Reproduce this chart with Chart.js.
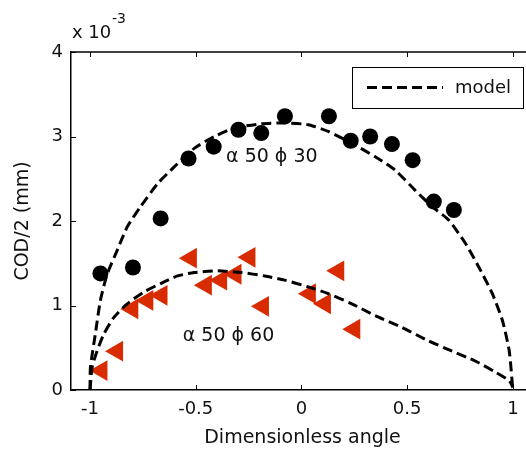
<!DOCTYPE html>
<html>
<head>
<meta charset="utf-8">
<script src="https://cdn.jsdelivr.net/npm/chart.js@4"></script>
<style>
  html, body { margin: 0; padding: 0; background: #fff; overflow: hidden; }
  #wrap { width: 526px; height: 451px; overflow: hidden; }
</style>
</head>
<body>
<div id="wrap">
  <canvas id="grafica" width="560" height="451" style="width:560px;height:451px"></canvas>
</div>
<script>
// ticks
const xTicks = [-1, -0.5, 0, 0.5, 1];
const yTicks = [0, 1, 2, 3, 4];

// medidos, phi 30 (circulos) - COD/2 en unidades de 1e-3 mm
const circX = [-0.951, -0.797, -0.666, -0.534, -0.415, -0.298, -0.190, -0.078, 0.130, 0.233, 0.325, 0.428, 0.526, 0.626, 0.721];
const circY = [1.38, 1.45, 2.03, 2.74, 2.88, 3.08, 3.04, 3.24, 3.24, 2.95, 3.00, 2.91, 2.72, 2.23, 2.13];

// medidos, phi 60 (triangulos)
const triX = [-0.946, -0.872, -0.800, -0.729, -0.662, -0.523, -0.452, -0.380, -0.312, -0.246, -0.182, 0.040, 0.111, 0.174, 0.250];
const triY = [0.23, 0.46, 0.96, 1.06, 1.12, 1.56, 1.24, 1.30, 1.37, 1.57, 0.99, 1.14, 1.02, 1.41, 0.72];

// modelo phi 30
const mod30X = [-1.0, -0.998, -0.975, -0.951, -0.919, -0.872, -0.824, -0.761, -0.681, -0.602, -0.507, -0.412, -0.317, -0.190, -0.079, 0.032, 0.127, 0.238, 0.349, 0.444, 0.539, 0.618, 0.697, 0.777, 0.840, 0.903, 0.951, 0.983, 1.0];
const mod30Y = [0.0, 0.27, 0.66, 1.06, 1.37, 1.65, 1.93, 2.17, 2.44, 2.64, 2.86, 3.00, 3.10, 3.15, 3.16, 3.14, 3.06, 2.92, 2.76, 2.60, 2.36, 2.17, 2.01, 1.73, 1.45, 1.14, 0.82, 0.46, 0.0];

// modelo phi 60
const mod60X = [-1.0, -0.99, -0.967, -0.935, -0.887, -0.824, -0.745, -0.666, -0.586, -0.507, -0.396, -0.285, -0.174, -0.079, 0.032, 0.127, 0.238, 0.349, 0.475, 0.602, 0.713, 0.824, 0.919, 0.983, 1.0];
const mod60Y = [0.0, 0.27, 0.46, 0.66, 0.86, 1.02, 1.16, 1.26, 1.35, 1.39, 1.41, 1.39, 1.35, 1.30, 1.22, 1.14, 1.02, 0.88, 0.74, 0.58, 0.46, 0.34, 0.21, 0.11, 0.03];

const etiquetas = [
    { x: -0.14, y: 2.76, texto: "\u03b1 50 \u03d5 30" },
    { x: -0.345, y: 0.64, texto: "\u03b1 50 \u03d5 60" }
];

const fuente = '"DejaVu Sans", Verdana, sans-serif';
const rojo = '#d92b00';
const guion = [10, 5];

function puntos(xs, ys) {
    return xs.map((v, i) => ({ x: v, y: ys[i] }));
}

// Dibuja caja, ticks interiores, leyenda y textos
const decoracion = {
    id: 'decoracion',
    afterDraw(chart) {
        const ctx = chart.ctx;
        const a = chart.chartArea;
        const sx = chart.scales.x;
        const sy = chart.scales.y;
        ctx.save();

        function linea(x1, y1, x2, y2) {
            ctx.beginPath();
            ctx.moveTo(x1, y1);
            ctx.lineTo(x2, y2);
            ctx.stroke();
        }

        ctx.strokeStyle = '#000';
        ctx.lineWidth = 1.5;
        linea(a.left, a.top, a.right, a.top);
        linea(a.right, a.top, a.right, a.bottom);

        ctx.lineWidth = 1;
        xTicks.forEach(v => {
            const px = Math.round(sx.getPixelForValue(v)) + 0.5;
            linea(px, a.bottom, px, a.bottom - 5);
            linea(px, a.top, px, a.top + 5);
        });
        yTicks.forEach(v => {
            const py = Math.round(sy.getPixelForValue(v)) + 0.5;
            linea(a.left, py, a.left + 5, py);
            linea(a.right, py, a.right - 5, py);
        });

        // textos alpha / phi
        ctx.fillStyle = '#111';
        ctx.font = '19px ' + fuente;
        ctx.textAlign = 'center';
        ctx.textBaseline = 'middle';
        etiquetas.forEach(e => {
            ctx.fillText(e.texto, sx.getPixelForValue(e.x), sy.getPixelForValue(e.y));
        });

        // multiplicador del eje y
        ctx.textAlign = 'left';
        ctx.textBaseline = 'alphabetic';
        ctx.font = '18px ' + fuente;
        ctx.fillText('x 10', 72, 38);
        ctx.font = '14px ' + fuente;
        ctx.fillText('-3', 112, 23);

        // leyenda
        ctx.fillStyle = '#fff';
        ctx.fillRect(352, 67, 171, 41);
        ctx.strokeStyle = '#000';
        ctx.lineWidth = 1;
        ctx.strokeRect(352.5, 67.5, 171, 41);
        ctx.lineWidth = 3;
        ctx.setLineDash(guion);
        linea(367, 87.5, 443, 87.5);
        ctx.setLineDash([]);
        ctx.fillStyle = '#111';
        ctx.font = '18px ' + fuente;
        ctx.textBaseline = 'middle';
        ctx.fillText('model', 455, 88);

        ctx.restore();
    }
};

const ctx = document.getElementById('grafica').getContext('2d');

new Chart(ctx, {
    type: 'scatter',
    data: {
        datasets: [
            {
                label: 'model',
                data: puntos(mod30X, mod30Y),
                showLine: true,
                borderColor: '#000',
                borderWidth: 3,
                borderDash: guion,
                pointRadius: 0,
                tension: 0.2,
                order: 0
            },
            {
                label: 'model 60',
                data: puntos(mod60X, mod60Y),
                showLine: true,
                borderColor: '#000',
                borderWidth: 3,
                borderDash: guion,
                pointRadius: 0,
                tension: 0.2,
                order: 0
            },
            {
                label: 'phi 30',
                data: puntos(circX, circY),
                backgroundColor: '#000',
                borderColor: '#000',
                pointStyle: 'circle',
                pointRadius: 8,
                borderWidth: 0,
                order: 1
            },
            {
                label: 'phi 60',
                data: puntos(triX, triY),
                backgroundColor: rojo,
                borderColor: rojo,
                pointStyle: 'triangle',
                rotation: -90,
                pointRadius: 12,
                borderWidth: 0,
                order: 1
            }
        ]
    },
    options: {
        responsive: false,
        animation: false,
        devicePixelRatio: 1,
        layout: { padding: { top: 52, right: 26, left: 0, bottom: 0 } },
        plugins: {
            legend: { display: false },
            tooltip: { enabled: false }
        },
        scales: {
            x: {
                type: 'linear',
                min: -1.09,
                max: 1.1,
                afterBuildTicks: s => { s.ticks = xTicks.map(v => ({ value: v })); },
                afterFit: s => { s.height = 61; },
                grid: { display: false, drawTicks: false },
                border: { display: true, color: '#000', width: 1.5 },
                ticks: {
                    color: '#111',
                    font: { family: fuente, size: 18 },
                    padding: 9,
                    maxRotation: 0,
                    autoSkip: false,
                    callback: v => String(v)
                },
                title: {
                    display: true,
                    text: 'Dimensionless angle',
                    color: '#111',
                    font: { family: fuente, size: 19 },
                    padding: { top: 0, bottom: 2 }
                }
            },
            y: {
                type: 'linear',
                min: 0,
                max: 4,
                afterBuildTicks: s => { s.ticks = yTicks.map(v => ({ value: v })); },
                afterFit: s => { s.width = 71; },
                grid: { display: false, drawTicks: false },
                border: { display: true, color: '#000', width: 1.5 },
                ticks: {
                    color: '#111',
                    font: { family: fuente, size: 18 },
                    padding: 8,
                    callback: v => String(v)
                },
                title: {
                    display: true,
                    text: 'COD/2 (mm)',
                    color: '#111',
                    font: { family: fuente, size: 19 },
                    padding: { top: 12, bottom: 0 }
                }
            }
        }
    },
    plugins: [decoracion]
});
</script>
</body>
</html>
